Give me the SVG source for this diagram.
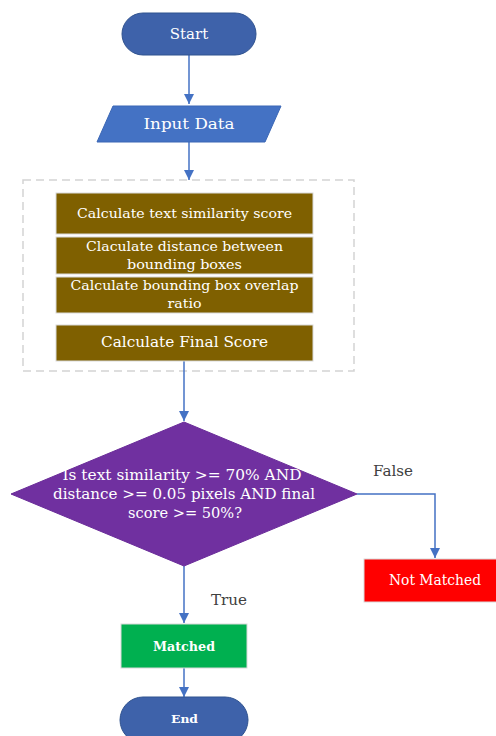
<svg xmlns="http://www.w3.org/2000/svg" width="496" height="736" viewBox="0 0 496 736">
<defs>
<marker id="ah" viewBox="0 0 10 10" refX="10" refY="5" markerWidth="10" markerHeight="10" markerUnits="userSpaceOnUse" orient="auto">
<path d="M0,0 L10,5 L0,10 Z" fill="#4472C4"/>
</marker>
<style>
text{font-family:"DejaVu Serif","Liberation Serif",serif;text-anchor:middle;dominant-baseline:central}
.w{fill:#ffffff}
.lbl{fill:#404040;font-size:14px}
.conn{fill:none;stroke:#4472C4;stroke-width:1.5;marker-end:url(#ah)}
.brown{fill:#7F6000;stroke:#D9D9D9;stroke-width:1}
.term{fill:#3E62AA;stroke:#2F528F;stroke-width:1}
</style>
</defs>
<rect width="496" height="736" fill="#ffffff"/>
<g id="group-box">
<rect x="23" y="180" width="331" height="191" fill="none" stroke="#D3D3D3" stroke-width="1.5" stroke-dasharray="8,5"/>
</g>
<g id="connectors">
<path class="conn" d="M189,55 V104"/>
<path class="conn" d="M189,142 V180"/>
<path class="conn" d="M184,361 V421"/>
<path class="conn" d="M357,494 H435 V558"/>
<path class="conn" d="M184,566 V623"/>
<path class="conn" d="M184,668 V697"/>
</g>
<g id="start">
<rect class="term" x="122" y="13" width="134" height="42" rx="21"/>
<text class="w" x="189" y="34" font-size="15">Start</text>
</g>
<g id="input">
<polygon points="113,106 281,106 265,142 97,142" fill="#4472C4" stroke="#3A66B5" stroke-width="1"/>
<text class="w" x="189" y="124" font-size="15" textLength="91" lengthAdjust="spacingAndGlyphs">Input Data</text>
</g>
<g id="calc-text">
<rect class="brown" x="56" y="193" width="257" height="41"/>
<text class="w" x="184.5" y="213" font-size="13" textLength="215" lengthAdjust="spacingAndGlyphs">Calculate text similarity score</text>
</g>
<g id="calc-distance">
<rect class="brown" x="56" y="237" width="257" height="37"/>
<text class="w" x="184.5" y="246" font-size="13" textLength="197" lengthAdjust="spacingAndGlyphs">Claculate distance between</text>
<text class="w" x="184.5" y="264" font-size="13" textLength="115" lengthAdjust="spacingAndGlyphs">bounding boxes</text>
</g>
<g id="calc-overlap">
<rect class="brown" x="56" y="277" width="257" height="36"/>
<text class="w" x="184.5" y="285" font-size="13" textLength="228" lengthAdjust="spacingAndGlyphs">Calculate bounding box overlap</text>
<text class="w" x="184.5" y="303" font-size="13" textLength="34" lengthAdjust="spacingAndGlyphs">ratio</text>
</g>
<g id="calc-final">
<rect class="brown" x="56" y="325" width="257" height="36"/>
<text class="w" x="184.5" y="342" font-size="15" textLength="167" lengthAdjust="spacingAndGlyphs">Calculate Final Score</text>
</g>
<g id="decision">
<polygon points="184,422 357,494 184,566 11,494" fill="#7030A0" stroke="#6A2C99" stroke-width="1"/>
<text class="w" x="182" y="475" font-size="15" textLength="239" lengthAdjust="spacingAndGlyphs">Is text similarity &gt;= 70%  AND</text>
<text class="w" x="184" y="494" font-size="15" textLength="262" lengthAdjust="spacingAndGlyphs">distance &gt;= 0.05 pixels AND final</text>
<text class="w" x="185" y="513" font-size="15" textLength="114" lengthAdjust="spacingAndGlyphs">score &gt;= 50%?</text>
</g>
<g id="labels">
<text class="lbl" x="393" y="471" textLength="40" lengthAdjust="spacingAndGlyphs">False</text>
<text class="lbl" x="229" y="600" textLength="36" lengthAdjust="spacingAndGlyphs">True</text>
</g>
<g id="not-matched">
<rect x="364" y="559" width="136" height="43" fill="#FF0000" stroke="#D9D9D9" stroke-width="1"/>
<text class="w" x="435" y="580" font-size="14" textLength="92" lengthAdjust="spacingAndGlyphs">Not Matched</text>
</g>
<g id="matched">
<rect x="121" y="624" width="126" height="44" fill="#00B050" stroke="#D9D9D9" stroke-width="1"/>
<text class="w" x="184" y="646" font-size="13" font-weight="bold" textLength="62" lengthAdjust="spacingAndGlyphs">Matched</text>
</g>
<g id="end">
<rect class="term" x="120" y="697" width="128" height="46" rx="23"/>
<text class="w" x="184.5" y="719" font-size="11" font-weight="bold" textLength="27" lengthAdjust="spacingAndGlyphs">End</text>
</g>
</svg>
